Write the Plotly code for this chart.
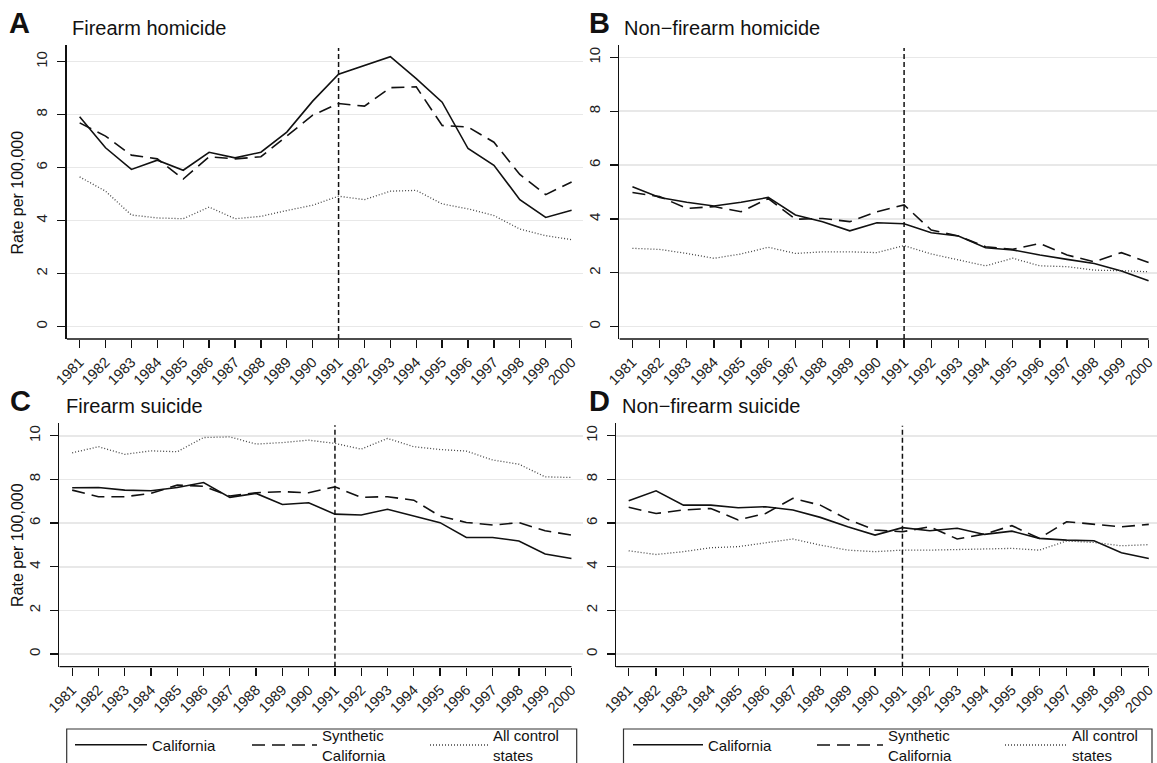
import plotly.graph_objects as go

W, H = 1157, 763
FONT = "Liberation Sans, Arial, Helvetica, sans-serif"

# ---------------- data ----------------
years = list(range(1981, 2001))
year_labels = [str(y) for y in years]
y_ticks = [0, 2, 4, 6, 8, 10]
y_tick_labels = ["0", "2", "4", "6", "8", "10"]
treatment_year = 1991
series_names = ["California", "Synthetic<br>California", "All control<br>states"]

# A: Firearm homicide
fh_california = [7.92, 6.75, 5.93, 6.28, 5.90, 6.58, 6.37, 6.58, 7.34, 8.51,
                 9.53, 9.86, 10.19, 9.36, 8.47, 6.72, 6.09, 4.79, 4.12, 4.39]
fh_synthetic = [7.69, 7.19, 6.47, 6.33, 5.57, 6.41, 6.33, 6.41, 7.19, 7.98,
                8.42, 8.32, 9.02, 9.05, 7.59, 7.53, 6.96, 5.74, 4.98, 5.46]
fh_control = [5.65, 5.11, 4.21, 4.10, 4.07, 4.51, 4.07, 4.16, 4.38, 4.58,
              4.92, 4.79, 5.11, 5.14, 4.63, 4.44, 4.19, 3.68, 3.43, 3.28]

# B: Non-firearm homicide
nfh_california = [5.20, 4.80, 4.62, 4.48, 4.62, 4.80, 4.15, 3.90, 3.56, 3.86,
                  3.82, 3.49, 3.37, 2.93, 2.85, 2.66, 2.50, 2.35, 2.07, 1.71]
nfh_synthetic = [4.98, 4.83, 4.39, 4.46, 4.27, 4.76, 3.99, 4.02, 3.90, 4.27,
                 4.52, 3.59, 3.37, 2.97, 2.87, 3.09, 2.66, 2.41, 2.75, 2.38]
nfh_control = [2.91, 2.87, 2.72, 2.54, 2.70, 2.95, 2.72, 2.78, 2.78, 2.75,
               3.01, 2.70, 2.48, 2.26, 2.54, 2.26, 2.23, 2.10, 2.08, 2.04]

# C: Firearm suicide
fs_california = [7.62, 7.63, 7.51, 7.48, 7.63, 7.86, 7.18, 7.36, 6.85, 6.93,
                 6.41, 6.37, 6.63, 6.32, 6.02, 5.34, 5.34, 5.18, 4.58, 4.38]
fs_synthetic = [7.51, 7.21, 7.21, 7.36, 7.74, 7.69, 7.24, 7.39, 7.44, 7.39,
                7.66, 7.18, 7.21, 7.05, 6.32, 6.03, 5.91, 6.02, 5.65, 5.45]
fs_control = [9.22, 9.50, 9.15, 9.31, 9.27, 9.92, 9.95, 9.62, 9.69, 9.80,
              9.65, 9.39, 9.88, 9.50, 9.37, 9.30, 8.89, 8.70, 8.12, 8.09]

# D: Non-firearm suicide
nfs_california = [7.02, 7.48, 6.82, 6.82, 6.70, 6.75, 6.60, 6.26, 5.83, 5.45,
                  5.79, 5.65, 5.76, 5.48, 5.63, 5.30, 5.22, 5.19, 4.64, 4.38]
nfs_synthetic = [6.72, 6.44, 6.60, 6.67, 6.14, 6.44, 7.13, 6.82, 6.17, 5.68,
                 5.60, 5.83, 5.27, 5.50, 5.88, 5.30, 6.06, 5.95, 5.83, 5.94]
nfs_control = [4.73, 4.56, 4.69, 4.87, 4.92, 5.11, 5.27, 4.99, 4.76, 4.69,
               4.76, 4.76, 4.79, 4.84, 4.84, 4.76, 5.18, 5.11, 4.96, 5.01]

panel_letters = ["A", "B", "C", "D"]
panel_titles = ["Firearm homicide", "Non\u2212firearm homicide",
                "Firearm suicide", "Non\u2212firearm suicide"]
panel_series = [
    (fh_california, fh_synthetic, fh_control),
    (nfh_california, nfh_synthetic, nfh_control),
    (fs_california, fs_synthetic, fs_control),
    (nfs_california, nfs_synthetic, nfs_control),
]

# ---------------- layout geometry (pixels) ----------------
geom = [
    dict(l=66.7, r=583, xr=[1980.50, 2000.44], t=45, b=339, yr=[-0.472, 10.63]),
    dict(l=619.4, r=1157, xr=[1980.52, 2000.31], t=45, b=339, yr=[-0.457, 10.46]),
    dict(l=59.3, r=583, xr=[1980.51, 2000.44], t=422.7, b=666.7, yr=[-0.58, 10.60]),
    dict(l=616.1, r=1157, xr=[1980.54, 2000.30], t=423.3, b=666.7, yr=[-0.58, 10.57]),
]
title_pos = [
    dict(lx=7, tx=70, y=28),
    dict(lx=587, tx=622, y=28),
    dict(lx=8, tx=64, y=406),
    dict(lx=587, tx=620, y=406),
]
# legend boxes (left, right, top) and item placements (left px, item width)
legend_boxes = {2: (66.7, 576.7, 729), 3: (623.5, 1152, 729)}
legend_items = {
    2: [(70, 72), (247, 65), (425, 58)],
    3: [(628, 70), (812, 66), (1000, 62)],
}
legend_center_y = 745

def px(x):
    return x / W

def py(y):
    return 1 - y / H

fig = go.Figure()
styles = [
    dict(color="#111111", width=1.6, dash="solid"),
    dict(color="#111111", width=1.6, dash="13px,7px"),
    dict(color="#444444", width=1.3, dash="1px,2px"),
]

shapes = []
annotations = []
layout_extra = {}
legend_counter = 0

for i in range(4):
    n = i + 1
    xa = "x" if n == 1 else f"x{n}"
    ya = "y" if n == 1 else f"y{n}"
    g = geom[i]
    for s, (vals, st) in enumerate(zip(panel_series[i], styles)):
        kw = dict(
            x=years, y=vals, mode="lines", name=series_names[s],
            line=st, xaxis=xa, yaxis=ya, hoverinfo="skip",
            showlegend=i in legend_items,
        )
        if i in legend_items:
            legend_counter += 1
            lid = "legend" if legend_counter == 1 else f"legend{legend_counter}"
            kw["legend"] = lid
            lx, iw = legend_items[i][s]
            layout_extra[lid] = dict(
                x=px(lx), y=py(legend_center_y), xanchor="left", yanchor="middle",
                orientation="h", bgcolor="rgba(0,0,0,0)", borderwidth=0,
                font=dict(size=15, color="#111", family=FONT),
                itemwidth=iw, valign="middle",
                itemclick=False, itemdoubleclick=False,
            )
        fig.add_trace(go.Scatter(**kw))

    xkey = "xaxis" if n == 1 else f"xaxis{n}"
    ykey = "yaxis" if n == 1 else f"yaxis{n}"
    layout_extra[xkey] = dict(
        domain=[px(g["l"]), px(g["r"])], range=g["xr"], anchor=ya,
        tickvals=years, ticktext=year_labels, tickangle=-45,
        ticks="outside", ticklen=8, tickwidth=1.3, tickcolor="#111",
        showline=False, showgrid=False, zeroline=False,
        tickfont=dict(size=14.5, color="#222", family=FONT),
    )
    layout_extra[ykey] = dict(
        domain=[py(g["b"]), py(g["t"])], range=g["yr"], anchor=xa,
        tickvals=y_ticks, ticktext=y_tick_labels, tickangle=-90,
        ticks="outside", ticklen=8, tickwidth=1.3, tickcolor="#111",
        showline=True, linecolor="#111", linewidth=1.3,
        showgrid=True, gridcolor="#e8e8e8", gridwidth=1.6, zeroline=False,
        tickfont=dict(size=15, color="#222", family=FONT),
        ticklabelstandoff=4,
    )
    # bottom axis line from left edge to the last year
    shapes.append(dict(type="line", xref=xa, yref=f"{ya} domain",
                       x0=g["xr"][0], x1=years[-1], y0=0, y1=0,
                       line=dict(color="#111", width=1.3)))
    # treatment year marker
    shapes.append(dict(type="line", xref=xa, yref=f"{ya} domain",
                       x0=treatment_year, x1=treatment_year, y0=0, y1=0.99,
                       line=dict(color="#111", width=1.5, dash="5px,3px")))
    tp = title_pos[i]
    annotations.append(dict(text=f"<b>{panel_letters[i]}</b>", xref="paper", yref="paper",
                            x=px(tp["lx"]), y=py(tp["y"] - 5), xanchor="left", yanchor="middle",
                            showarrow=False, font=dict(size=29, color="#111", family=FONT)))
    annotations.append(dict(text=panel_titles[i], xref="paper", yref="paper",
                            x=px(tp["tx"]), y=py(tp["y"]), xanchor="left", yanchor="middle",
                            showarrow=False, font=dict(size=20, color="#111", family=FONT)))

for yc in (193, 545.5):
    annotations.append(dict(text="Rate per 100,000", xref="paper", yref="paper",
                            x=px(17.5), y=py(yc), xanchor="center", yanchor="middle",
                            textangle=-90, showarrow=False,
                            font=dict(size=16, color="#111", family=FONT)))

# legend frames (extend below the picture edge, as in the reference)
for i, (l, r, t) in legend_boxes.items():
    shapes.append(dict(type="rect", xref="paper", yref="paper",
                       x0=px(l), x1=px(r), y0=py(t + 60), y1=py(t),
                       line=dict(color="#333", width=1.2), fillcolor="rgba(0,0,0,0)"))

fig.update_layout(
    width=W, height=H,
    margin=dict(l=0, r=0, t=0, b=0, autoexpand=False),
    paper_bgcolor="white", plot_bgcolor="white",
    font=dict(family=FONT, color="#111"),
    shapes=shapes, annotations=annotations,
    **layout_extra,
)

fig.write_html(
    "out.html",
    config={"displayModeBar": False, "staticPlot": True},
    post_script="document.body.style.margin='0px';document.body.style.overflow='hidden';",
)
